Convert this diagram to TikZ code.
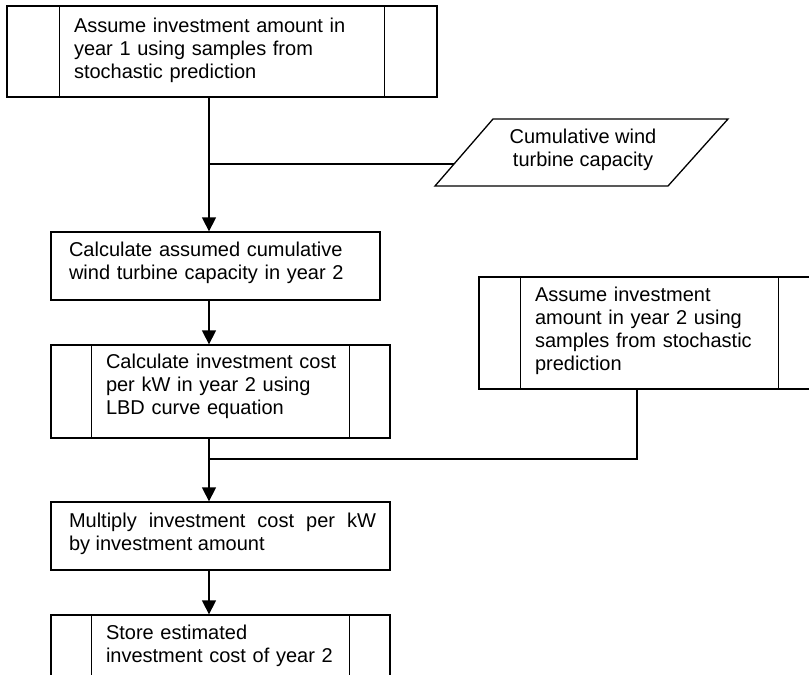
\documentclass[tikz,border=0pt]{standalone}
\usepackage{fontspec}
\setmainfont{Liberation Sans}
\usetikzlibrary{arrows.meta}
\begin{document}
\begin{tikzpicture}[x=1pt,y=-1pt,
  line width=1.3pt,
  box/.style={draw,rectangle,inner sep=0pt},
  txt/.style={inner sep=0pt,anchor=north west,align=left,text width=#1,
    font=\fontsize{20}{23}\selectfont},
  arr/.style={-{Triangle[length=14pt,width=14pt]}}]
\useasboundingbox (0,0) rectangle (809,675);
\clip (0,0) rectangle (809,675);

% guide column for the main flow and junction points
\coordinate (spine) at (209,0);
\coordinate (pj) at (454,164);
\coordinate (rj) at (637,459);

% boxes
\node[box,minimum width=430pt,minimum height=91pt] (b1) at (222,51.5) {};
\node[box,minimum width=329pt,minimum height=68pt] (b2) at (215.5,266) {};
\node[box,minimum width=339pt,minimum height=93pt] (b3) at (220.5,391.5) {};
\node[box,minimum width=339pt,minimum height=68pt] (b4) at (220.5,536) {};
\node[box,minimum width=339pt,minimum height=85pt] (b5) at (220.5,657.5) {};
\node[box,minimum width=341pt,minimum height=112pt] (rb) at (649.5,333) {};

% side bars of the predefined-process boxes
\foreach \n/\d in {b1/53,b3/41,b5/41,rb/42}{
  \draw ([xshift=\d pt]\n.north west) -- ([xshift=\d pt]\n.south west);
  \draw ([xshift=-\d pt]\n.north east) -- ([xshift=-\d pt]\n.south east);
}

% data input parallelogram
\coordinate (pbl) at (435,186);
\coordinate (pbr) at (668,186);
\coordinate (ptr) at (728,119);
\coordinate (ptl) at (493,119);
\draw (pbl) -- (pbr) -- (ptr) -- (ptl) -- cycle;

% texts
\node[txt=300pt] (t1) at ([xshift=67pt,yshift=-12pt]b1.north west)
  {Assume investment amount in\\year 1 using samples from\\stochastic prediction};
\node[txt=300pt] (t2) at ([xshift=18pt,yshift=-10pt]b2.north west)
  {Calculate assumed cumulative\\wind turbine capacity in year 2};
\node[txt=300pt] (t3) at ([xshift=55pt,yshift=-9pt]b3.north west)
  {Calculate investment cost\\per kW in year 2 using\\LBD curve equation};
\node[txt=307pt,align=justify] (t4) at ([xshift=18pt,yshift=-11pt]b4.north west)
  {Multiply investment cost per kW\linebreak by investment amount};
\node[txt=300pt] (t5) at ([xshift=55pt,yshift=-10pt]b5.north west)
  {Store estimated\\investment cost of year 2};
\node[txt=300pt] (t6) at ([xshift=56pt,yshift=-10pt]rb.north west)
  {Assume investment\\amount in year 2 using\\samples from stochastic\\prediction};
\node[inner sep=0pt,anchor=north,align=center,
  font=\fontsize{20}{23}\selectfont] (pt) at (583,128)
  {Cumulative wind\\turbine capacity};

% connectors
\draw[arr] (b1.south -| spine) -- (b2.north -| spine);
\draw (pj) -- (pj -| spine);
\draw[arr] (b2.south -| spine) -- (b3.north -| spine);
\draw[arr] (b3.south -| spine) -- (b4.north -| spine);
\draw (rb.south -| rj) -- (rj) -- (rj -| spine);
\draw[arr] (b4.south -| spine) -- (b5.north -| spine);
\end{tikzpicture}
\end{document}
